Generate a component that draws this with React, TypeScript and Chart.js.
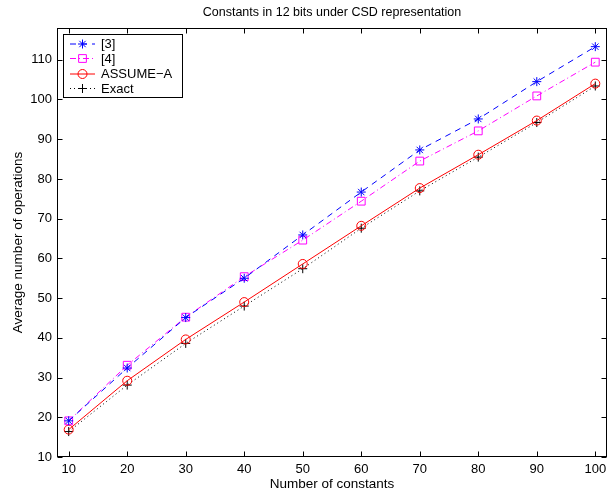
import React, { useEffect, useRef } from "react";
import { Chart, registerables } from "chart.js";

Chart.register(...registerables);

const titleText = "Constants in 12 bits under CSD representation";
const xTitle = "Number of constants";
const yTitle = "Average number of operations";

const xValues = [10, 20, 30, 40, 50, 60, 70, 80, 90, 100];
const seriesNames = ["[3]", "[4]", "ASSUME\u2212A", "Exact"];
const ref3 = [19.1, 32.4, 45.1, 55.0, 65.9, 76.7, 87.3, 95.1, 104.5, 113.3];
const ref4 = [19.1, 33.1, 45.2, 55.4, 64.6, 74.4, 84.5, 92.1, 100.9, 109.4];
const assume = [16.9, 29.2, 39.6, 49.0, 58.6, 68.2, 77.7, 86.1, 94.7, 104.0];
const exact = [16.4, 28.1, 38.6, 48.0, 57.4, 67.6, 77.0, 85.5, 94.2, 103.4];
const xTicks = [10, 20, 30, 40, 50, 60, 70, 80, 90, 100];
const yTicks = [10, 20, 30, 40, 50, 60, 70, 80, 90, 100, 110];

const FONT = '"Liberation Sans", Arial, Helvetica, sans-serif';

const styles = [
  { color: "#0000ff", dash: [6, 5], point: "star", radius: 4.5 },
  { color: "#ff00ff", dash: [6, 3, 1, 3], point: "rect", radius: 5.5 },
  { color: "#ff0000", dash: [], point: "circle", radius: 4.5 },
  { color: "#000000", dash: [1, 3], point: "cross", radius: 4.5 },
];

function drawMarker(ctx: CanvasRenderingContext2D, style: string, cx: number, cy: number, r: number) {
  ctx.beginPath();
  if (style === "star") {
    ctx.moveTo(cx - r, cy); ctx.lineTo(cx + r, cy);
    ctx.moveTo(cx, cy - r); ctx.lineTo(cx, cy + r);
    const d = r * Math.SQRT1_2;
    ctx.moveTo(cx - d, cy - d); ctx.lineTo(cx + d, cy + d);
    ctx.moveTo(cx - d, cy + d); ctx.lineTo(cx + d, cy - d);
  } else if (style === "rect") {
    const s = r * Math.SQRT1_2;
    ctx.rect(cx - s, cy - s, 2 * s, 2 * s);
  } else if (style === "circle") {
    ctx.arc(cx, cy, r, 0, Math.PI * 2);
  } else {
    ctx.moveTo(cx - r, cy); ctx.lineTo(cx + r, cy);
    ctx.moveTo(cx, cy - r); ctx.lineTo(cx, cy + r);
  }
  ctx.stroke();
}

const decorPlugin = {
  id: "decor",
  afterDraw(chart: any) {
    const { ctx, chartArea } = chart;
    const { left, right, top, bottom } = chartArea;
    const xs = chart.scales.x;
    const ys = chart.scales.y;
    ctx.save();
    ctx.strokeStyle = "#000";
    ctx.lineWidth = 1;
    ctx.setLineDash([]);
    const L = Math.round(left) + 0.5, R = Math.round(right) - 0.5;
    const T = Math.round(top) + 0.5, B = Math.round(bottom) - 0.5;
    ctx.strokeRect(L, T, R - L, B - T);
    const tl = 5;
    ctx.beginPath();
    for (const v of xTicks) {
      const px = Math.round(xs.getPixelForValue(v)) + 0.5;
      ctx.moveTo(px, B); ctx.lineTo(px, B - tl);
      ctx.moveTo(px, T); ctx.lineTo(px, T + tl);
    }
    for (const v of yTicks) {
      const py = Math.round(ys.getPixelForValue(v)) + 0.5;
      ctx.moveTo(L, py); ctx.lineTo(L + tl, py);
      ctx.moveTo(R, py); ctx.lineTo(R - tl, py);
    }
    ctx.stroke();
    ctx.fillStyle = "#000";
    ctx.font = `12.5px ${FONT}`;
    ctx.textAlign = "center";
    ctx.textBaseline = "middle";
    ctx.fillText(titleText, (left + right) / 2, 13);
    const bx = 63.5, by = 34.5, bw = 119, bh = 63;
    ctx.fillStyle = "#fff";
    ctx.fillRect(bx, by, bw, bh);
    ctx.strokeStyle = "#000";
    ctx.strokeRect(bx, by, bw, bh);
    const rows = [44, 58.5, 74, 88.5];
    ctx.font = `13px ${FONT}`;
    ctx.textAlign = "left";
    for (let i = 0; i < 4; i++) {
      const s = styles[i];
      const yy = rows[i];
      ctx.strokeStyle = s.color;
      ctx.setLineDash(s.dash);
      ctx.beginPath();
      ctx.moveTo(70, yy); ctx.lineTo(95, yy);
      ctx.stroke();
      ctx.setLineDash([]);
      drawMarker(ctx, s.point, 82.5, yy, s.radius);
      ctx.fillStyle = "#000";
      ctx.fillText(seriesNames[i], 101, yy + 0.5);
    }
    ctx.restore();
  },
};

export default function App() {
  const canvasRef = useRef<HTMLCanvasElement | null>(null);
  useEffect(() => {
    document.body.style.margin = "0";
    const canvas = canvasRef.current;
    if (!canvas) return;
    const allData = [ref3, ref4, assume, exact];
    const chart = new Chart(canvas, {
      type: "line",
      data: {
        datasets: allData.map((arr, i) => ({
          label: seriesNames[i],
          data: xValues.map((x, j) => ({ x, y: arr[j] })),
          borderColor: styles[i].color,
          borderWidth: 1,
          borderDash: styles[i].dash,
          pointStyle: styles[i].point as any,
          pointRadius: styles[i].radius,
          pointBorderColor: styles[i].color,
          pointBackgroundColor: "rgba(0,0,0,0)",
          pointBorderWidth: 1,
          fill: false,
          tension: 0,
        })),
      },
      options: {
        animation: false,
        responsive: false,
        devicePixelRatio: 1,
        layout: { padding: { left: 0, right: 9, top: 28, bottom: 0 } },
        plugins: { legend: { display: false }, title: { display: false }, tooltip: { enabled: false } },
        scales: {
          x: {
            type: "linear",
            min: 8,
            max: 102,
            afterBuildTicks: (scale: any) => { scale.ticks = xTicks.map((v) => ({ value: v })); },
            afterFit: (scale: any) => { scale.height = 35; },
            grid: { display: false, drawTicks: false },
            border: { display: false },
            ticks: { color: "#000", font: { family: FONT, size: 13 }, padding: 5, maxRotation: 0, autoSkip: false },
            title: { display: true, text: xTitle, color: "#000", font: { family: FONT, size: 13.5 }, padding: { top: 0, bottom: 0 } },
          },
          y: {
            type: "linear",
            min: 10,
            max: 118,
            afterBuildTicks: (scale: any) => { scale.ticks = yTicks.map((v) => ({ value: v })); },
            afterFit: (scale: any) => { scale.width = 57; },
            grid: { display: false, drawTicks: false },
            border: { display: false },
            ticks: { color: "#000", font: { family: FONT, size: 13 }, padding: 5, autoSkip: false },
            title: { display: true, text: yTitle, color: "#000", font: { family: FONT, size: 13.5 }, padding: { top: 10, bottom: 0 } },
          },
        },
      },
      plugins: [decorPlugin],
    });
    return () => chart.destroy();
  }, []);
  return (
    <div style={{ width: 616, height: 492 }}>
      <canvas ref={canvasRef} width={616} height={492} />
    </div>
  );
}
